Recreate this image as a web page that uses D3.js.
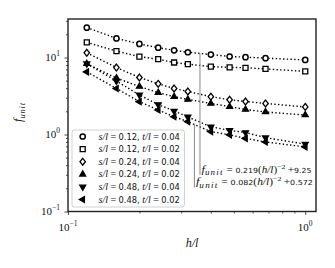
<!DOCTYPE html>
<html>
<head>
<meta charset="utf-8">
<script src="https://cdn.jsdelivr.net/npm/d3@7"></script>
<style>
  body { margin: 0; background: #fff; }
  svg { display: block; }
</style>
</head>
<body>
<svg id="chart"></svg>
<script>
// h/l sample points
var hl = [0.12, 0.16, 0.20, 0.24, 0.28, 0.32, 0.40, 0.48, 0.56, 0.68, 1.00];

// f_unit for each (s/l, t/l) case
var s12t04 = [24.4, 17.7, 15.0, 13.4, 12.4, 11.7, 10.9, 10.3, 10.1, 9.8, 9.3];
var s12t02 = [15.7, 12.1, 10.25, 9.5, 8.6, 8.2, 7.6, 7.45, 7.35, 7.1, 6.6];
var s24t04 = [11.5, 7.4, 5.5, 4.55, 3.96, 3.62, 3.10, 2.83, 2.68, 2.53, 2.28];
var s24t02 = [8.3, 5.4, 4.2, 3.5, 3.1, 2.85, 2.53, 2.30, 2.11, 1.96, 1.79];
var s48t04 = [8.3, 4.95, 3.26, 2.45, 2.02, 1.69, 1.26, 1.13, 1.06, 0.91, 0.75];
var s48t02 = [6.5, 3.96, 2.67, 2.08, 1.70, 1.47, 1.09, 0.99, 0.89, 0.80, 0.69];

var sl = ["0.12", "0.12", "0.24", "0.24", "0.48", "0.48"];
var tl = ["0.04", "0.02", "0.04", "0.02", "0.04", "0.02"];
var markers = ["circle", "square", "diamond", "up", "down", "left"];

var xTicks = [0.1, 1];
var yTicks = [0.1, 1, 10];
var xTickExp = ["\u22121", "0"];
var yTickExp = ["\u22121", "0", "1"];

// fitted curves noted on the plot
var fits = [
  { a: "0.219", b: "9.25", x: 0.36, yTop: 11.3, yBot: 0.30 },
  { a: "0.082", b: "0.572", x: 0.341, yTop: 1.36, yBot: 0.205 }
];
var fitTextWidth = [110, 117];

var series = [s12t04, s12t02, s24t04, s24t02, s48t04, s48t02];

var W = 335, H = 268;
var pLeft = 68, pRight = 316, pTop = 19, pBottom = 211.5;
var serif = "'Liberation Serif', 'DejaVu Serif', serif";
var sans = "'DejaVu Sans', sans-serif";

var svg = d3.select("#chart").attr("width", W).attr("height", H);

var x = d3.scaleLog().domain([0.1, 1.11]).range([pLeft, pRight]);
var y = d3.scaleLog().domain([0.1, 31.6]).range([pBottom, pTop]);

function minors(lo, hi) {
  var out = [];
  for (var e = lo; e < hi; e++)
    for (var k = 2; k <= 9; k++) out.push(k * Math.pow(10, e));
  return out;
}

// axes: major and minor ticks, labels drawn separately
function styleAxis(g) {
  g.select(".domain").remove();
  g.selectAll("line").attr("stroke", "#222").attr("stroke-width", 0.8);
}
svg.append("g").attr("transform", "translate(0," + pBottom + ")")
  .call(d3.axisBottom(x).tickValues(xTicks).tickSize(3.5).tickFormat(""))
  .call(styleAxis);
svg.append("g").attr("transform", "translate(0," + pBottom + ")")
  .call(d3.axisBottom(x).tickValues(minors(-1, 1).filter(function(d) { return d < 1.11; })).tickSize(2).tickFormat(""))
  .call(styleAxis);
svg.append("g").attr("transform", "translate(" + pLeft + ",0)")
  .call(d3.axisLeft(y).tickValues(yTicks).tickSize(3.5).tickFormat(""))
  .call(styleAxis);
svg.append("g").attr("transform", "translate(" + pLeft + ",0)")
  .call(d3.axisLeft(y).tickValues(minors(-1, 2).filter(function(d) { return d < 31.6; })).tickSize(2).tickFormat(""))
  .call(styleAxis);

function powLabel(sel, exp) {
  sel.append("tspan").text("10");
  sel.append("tspan").attr("dy", -4.8).attr("font-size", 7.5).text(exp);
}
xTicks.forEach(function(d, i) {
  var t = svg.append("text").attr("x", x(d)).attr("y", pBottom + 19.5)
    .attr("text-anchor", "middle").attr("font-family", serif).attr("font-size", 11).attr("fill", "#111");
  powLabel(t, xTickExp[i]);
});
yTicks.forEach(function(d, i) {
  var t = svg.append("text").attr("x", pLeft - 8).attr("y", y(d) + 3.5)
    .attr("text-anchor", "end").attr("font-family", serif).attr("font-size", 11).attr("fill", "#111");
  powLabel(t, yTickExp[i]);
});

// axis titles
svg.append("text").attr("x", 192).attr("y", 247)
  .attr("text-anchor", "middle").attr("font-family", serif).attr("font-style", "italic")
  .attr("font-size", 12).attr("fill", "#111").text("h/l");
var yl = svg.append("text").attr("transform", "translate(22," + 112 + ") rotate(-90)")
  .attr("text-anchor", "middle").attr("font-family", serif).attr("font-style", "italic")
  .attr("font-size", 12).attr("fill", "#111");
yl.append("tspan").text("f");
yl.append("tspan").attr("dy", 2.5).attr("font-size", 8.5).attr("letter-spacing", 0.8).text("unit");

// markers
function marker(g, kind, cx, cy) {
  var r = 2.6;
  if (kind === "circle") {
    g.append("circle").attr("cx", cx).attr("cy", cy).attr("r", r)
      .attr("fill", "#fff").attr("stroke", "#000").attr("stroke-width", 1.5);
    return;
  }
  var pts, fill = "#000";
  if (kind === "square") { r = 2.5; pts = [[-r, -r], [r, -r], [r, r], [-r, r]]; fill = "#fff"; }
  if (kind === "diamond") { r = 3.4; pts = [[0, -r], [r * 0.8, 0], [0, r], [-r * 0.8, 0]]; fill = "#fff"; }
  if (kind === "up") { r = 3.4; pts = [[0, -r], [r * 0.87, r * 0.5], [-r * 0.87, r * 0.5]]; }
  if (kind === "down") { r = 3.4; pts = [[0, r], [r * 0.87, -r * 0.5], [-r * 0.87, -r * 0.5]]; }
  if (kind === "left") { r = 3.4; pts = [[-r, 0], [r * 0.5, -r * 0.87], [r * 0.5, r * 0.87]]; }
  g.append("polygon")
    .attr("points", pts.map(function(p) { return (cx + p[0]) + "," + (cy + p[1]); }).join(" "))
    .attr("fill", fill).attr("stroke", "#000").attr("stroke-width", 1.3).attr("stroke-linejoin", "miter");
}

var plot = svg.append("g");
var line = d3.line().x(function(d, i) { return x(hl[i]); }).y(function(d) { return y(d); });

series.forEach(function(vals) {
  plot.append("path").attr("d", line(vals)).attr("fill", "none")
    .attr("stroke", "#000").attr("stroke-width", 1.4).attr("stroke-dasharray", "1.4,2.3");
});
series.forEach(function(vals, si) {
  vals.forEach(function(v, i) { marker(plot, markers[si], x(hl[i]), y(v)); });
});

// fit annotations
fits.forEach(function(f, k) {
  svg.append("line").attr("x1", x(f.x)).attr("x2", x(f.x))
    .attr("y1", y(f.yTop)).attr("y2", y(f.yBot))
    .attr("stroke", "#888").attr("stroke-width", 1);
  var t = svg.append("text").attr("x", x(f.x) + 1.5).attr("y", y(f.yBot) - 2)
    .attr("font-size", 10).attr("fill", "#111");
  t.append("tspan").attr("font-family", serif).attr("font-style", "italic").attr("font-size", 11).text("f");
  t.append("tspan").attr("font-family", serif).attr("font-style", "italic").attr("font-size", 8)
    .attr("letter-spacing", 1.1).attr("dy", 2.2).text("unit");
  t.append("tspan").attr("font-family", serif).attr("dy", -2.2).text(" = ");
  t.append("tspan").attr("font-family", sans).attr("font-size", 7).text(f.a);
  t.append("tspan").attr("font-family", serif).text("(");
  t.append("tspan").attr("font-family", serif).attr("font-style", "italic").text("h/l");
  t.append("tspan").attr("font-family", serif).text(")");
  t.append("tspan").attr("font-family", serif).attr("font-size", 7).attr("dy", -4).text("\u22122");
  t.append("tspan").attr("font-family", serif).attr("dy", 4).text("\u2009+");
  t.append("tspan").attr("font-family", sans).attr("font-size", 7).text(f.b);
  var w = t.node().getComputedTextLength();
  if (w < fitTextWidth[k]) t.attr("textLength", fitTextWidth[k]).attr("lengthAdjust", "spacingAndGlyphs");
});

// frame
svg.append("rect").attr("x", pLeft).attr("y", pTop).attr("width", pRight - pLeft).attr("height", pBottom - pTop)
  .attr("fill", "none").attr("stroke", "#222").attr("stroke-width", 1.4);

// legend
var lg = svg.append("g");
lg.append("rect").attr("x", 72).attr("y", 130).attr("width", 112.5).attr("height", 77)
  .attr("rx", 2.5).attr("fill", "#fff").attr("fill-opacity", 0.8)
  .attr("stroke", "#ccc").attr("stroke-width", 0.9);
markers.forEach(function(m, i) {
  var ry = 136.5 + i * 12.6;
  marker(lg, m, 82.7, ry);
  var t = lg.append("text").attr("x", 98.5).attr("y", ry + 3).attr("font-size", 10).attr("fill", "#111");
  t.append("tspan").attr("font-family", serif).attr("font-style", "italic").text("s/l");
  t.append("tspan").attr("font-family", serif).text(" = ");
  t.append("tspan").attr("font-family", sans).attr("font-size", 8.3).text(sl[i] + ", ");
  t.append("tspan").attr("font-family", serif).attr("font-style", "italic").text("t/l");
  t.append("tspan").attr("font-family", serif).text(" = ");
  t.append("tspan").attr("font-family", sans).attr("font-size", 8.3).text(tl[i]);
});
</script>
</body>
</html>
